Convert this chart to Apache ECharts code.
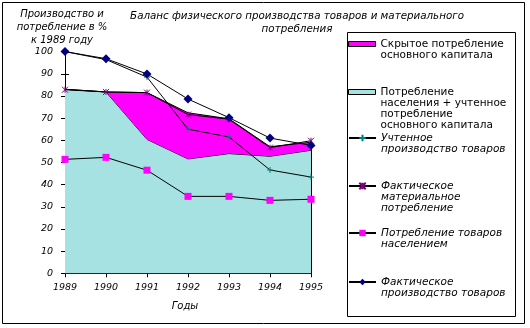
<!DOCTYPE html>
<html>
<head>
<meta charset="utf-8">
<script src="https://cdn.jsdelivr.net/npm/echarts@6/dist/echarts.min.js"></script>
<style>
  html, body { margin: 0; padding: 0; background: #fff; }
  #chart { width: 530px; height: 328px; }
</style>
</head>
<body>
<div id="chart"></div>
<script>
// Годы
const years = ['1989', '1990', '1991', '1992', '1993', '1994', '1995'];

// Площади (накопленные): потребление населения + учтенное потребление ОК, и скрытое потребление ОК поверх
const consumptionPlusCapital = [83.0, 81.8, 60.4, 51.6, 54.0, 52.8, 55.5];
const hiddenCapital = [0.0, 0.0, 21.1, 20.8, 15.7, 4.3, 3.6];

// Линии
const recordedProduction = [100, 96.4, 88.5, 65.0, 61.5, 46.6, 43.4];
const actualMaterialConsumption = [82.8, 81.8, 81.5, 71.6, 69.5, 56.7, 59.8];
const householdConsumption = [51.4, 52.3, 46.5, 34.7, 34.7, 32.9, 33.4];
const actualProduction = [100, 96.8, 89.9, 78.6, 70.2, 61.0, 57.7];

// Деления оси Y
const yTicks = { min: 0, max: 100, interval: 10 };

const NAMES = {
  hidden: 'Скрытое потребление основного капитала',
  cpc: 'Потребление населения + учтенное потребление основного капитала',
  rec: 'Учтенное производство товаров',
  mat: 'Фактическое материальное потребление',
  hh: 'Потребление товаров населением',
  act: 'Фактическое производство товаров'
};
const legendText = {
  [NAMES.hidden]: 'Скрытое потребление\nосновного капитала',
  [NAMES.cpc]: 'Потребление\nнаселения + учтенное\nпотребление\nосновного капитала',
  [NAMES.rec]: 'Учтенное\nпроизводство товаров',
  [NAMES.mat]: 'Фактическое\nматериальное\nпотребление',
  [NAMES.hh]: 'Потребление товаров\nнаселением',
  [NAMES.act]: 'Фактическое\nпроизводство товаров'
};

const FONT = 'DejaVu Sans';
const CYAN = '#a6e2e2';
const MAGENTA = '#ff00ff';

const plusPath = 'path://M0,5 L10,5 M5,0 L5,10';
const starPath = 'path://M0,0 L10,10 M10,0 L0,10 M5,0 L5,10';

// Одна легенда на каждую серию. Текст центрируется по значку, поэтому
// сверху добавляются пустые строки, чтобы значок стоял у первой строки.
const LH = 11;
function legendFor(name, centerY, italic, extra) {
  const n = legendText[name].split('\n').length;
  const pad = new Array(n).join('\n');
  return {
    left: 348,
    top: centerY - (2 * n - 1) * LH / 2,
    padding: 0,
    itemWidth: 27,
    itemHeight: extra ? 5 : 8,
    selectedMode: false,
    data: [extra ? Object.assign({ name: name }, extra) : name],
    formatter: function (nm) { return pad + legendText[nm]; },
    textStyle: {
      fontFamily: FONT,
      fontSize: 10.5,
      fontStyle: italic ? 'italic' : 'normal',
      color: '#000',
      lineHeight: LH
    }
  };
}

const chart = echarts.init(document.getElementById('chart'), null, { renderer: 'canvas' });

const lineCommon = {
  type: 'line',
  clip: false,
  lineStyle: { color: '#000', width: 1 },
  z: 5
};

chart.setOption({
  animation: false,
  backgroundColor: '#fff',
  title: {
    text: 'Баланс физического производства товаров и материального\nпотребления',
    left: 297,
    top: 9.5,
    padding: 0,
    textAlign: 'center',
    textStyle: {
      fontFamily: FONT, fontSize: 10.3, fontStyle: 'italic', fontWeight: 'normal',
      color: '#000', lineHeight: 13
    }
  },
  grid: { left: 65, right: 219, top: 51.6, bottom: 54.7 },
  legend: [
    legendFor(NAMES.hidden, 44, false, { icon: 'rect', itemStyle: { color: MAGENTA, borderColor: '#000', borderWidth: 1 } }),
    legendFor(NAMES.cpc, 92, false, { icon: 'rect', itemStyle: { color: CYAN, borderColor: '#000', borderWidth: 1 } }),
    legendFor(NAMES.rec, 138, true),
    legendFor(NAMES.mat, 186, true),
    legendFor(NAMES.hh, 233, true),
    legendFor(NAMES.act, 282, true)
  ],
  xAxis: [{
    type: 'category',
    data: years,
    boundaryGap: false,
    name: 'Годы',
    nameLocation: 'middle',
    nameGap: 28,
    nameTextStyle: { fontFamily: FONT, fontSize: 10, fontStyle: 'italic', color: '#000', padding: [0, 6, 0, 0] },
    axisLine: { lineStyle: { color: '#000', width: 1 } },
    axisTick: { show: true, length: 4, lineStyle: { color: '#000' } },
    axisLabel: { fontFamily: FONT, fontSize: 9.5, fontStyle: 'italic', color: '#000', margin: 9 },
    splitLine: { show: false }
  }, {
    type: 'category',
    data: years,
    boundaryGap: false,
    position: 'bottom',
    offset: 0,
    axisLine: { show: false },
    axisTick: { show: true, inside: true, length: 4, lineStyle: { color: '#000' } },
    axisLabel: { show: false },
    splitLine: { show: false }
  }],
  yAxis: [{
    type: 'value',
    min: yTicks.min, max: yTicks.max, interval: yTicks.interval,
    position: 'left',
    name: 'Производство и\nпотребление в %\nк 1989 году',
    nameLocation: 'end',
    nameGap: 0,
    nameTextStyle: {
      fontFamily: FONT, fontSize: 10, fontStyle: 'italic', color: '#000',
      align: 'center', verticalAlign: 'bottom', lineHeight: 13, padding: [0, 6, 0, 0]
    },
    axisLine: { show: true, lineStyle: { color: '#000', width: 1 } },
    axisTick: { show: true, length: 4, lineStyle: { color: '#000' } },
    axisLabel: { fontFamily: FONT, fontSize: 9.5, fontStyle: 'italic', color: '#000', margin: 12 },
    splitLine: { show: false }
  }, {
    type: 'value',
    min: yTicks.min, max: yTicks.max, interval: yTicks.interval,
    position: 'left',
    offset: 0,
    axisLine: { show: false },
    axisTick: { show: true, inside: true, length: 4, lineStyle: { color: '#000' } },
    axisLabel: { show: false },
    splitLine: { show: false }
  }],
  series: [
    {
      name: NAMES.cpc,
      type: 'line',
      stack: 'area',
      data: consumptionPlusCapital,
      symbol: 'none',
      areaStyle: { color: CYAN, opacity: 1 },
      lineStyle: { color: '#000', width: 1 },
      itemStyle: { color: CYAN },
      z: 2
    },
    {
      name: NAMES.hidden,
      type: 'line',
      stack: 'area',
      data: hiddenCapital,
      symbol: 'none',
      areaStyle: { color: MAGENTA, opacity: 1 },
      lineStyle: { color: '#000', width: 1 },
      itemStyle: { color: MAGENTA },
      z: 3,
      markLine: {
        silent: true,
        symbol: 'none',
        label: { show: false },
        lineStyle: { color: '#000', width: 1, type: 'solid' },
        data: [[
          { coord: [years[years.length - 1], 0] },
          { coord: [years[years.length - 1], consumptionPlusCapital[years.length - 1] + hiddenCapital[years.length - 1]] }
        ]]
      }
    },
    Object.assign({}, lineCommon, {
      name: NAMES.rec,
      data: recordedProduction,
      symbol: plusPath,
      symbolSize: 6,
      itemStyle: { color: '#008080', borderColor: '#008080', borderWidth: 1 }
    }),
    Object.assign({}, lineCommon, {
      name: NAMES.mat,
      data: actualMaterialConsumption,
      symbol: starPath,
      symbolSize: 6,
      itemStyle: { color: '#800080', borderColor: '#800080', borderWidth: 1 }
    }),
    Object.assign({}, lineCommon, {
      name: NAMES.hh,
      data: householdConsumption,
      symbol: 'rect',
      symbolSize: 7,
      itemStyle: { color: MAGENTA, borderWidth: 0 }
    }),
    Object.assign({}, lineCommon, {
      name: NAMES.act,
      data: actualProduction,
      symbol: 'diamond',
      symbolSize: 9,
      itemStyle: { color: '#000080', borderWidth: 0 }
    })
  ],
  graphic: [
    {
      type: 'rect',
      shape: { x: 2.5, y: 2.5, width: 522, height: 321 },
      style: { fill: null, stroke: '#000', lineWidth: 1 },
      silent: true, z: 0
    },
    {
      type: 'rect',
      shape: { x: 347.5, y: 32.5, width: 168, height: 284 },
      style: { fill: null, stroke: '#000', lineWidth: 1 },
      silent: true, z: 0
    }
  ]
});
</script>
</body>
</html>
